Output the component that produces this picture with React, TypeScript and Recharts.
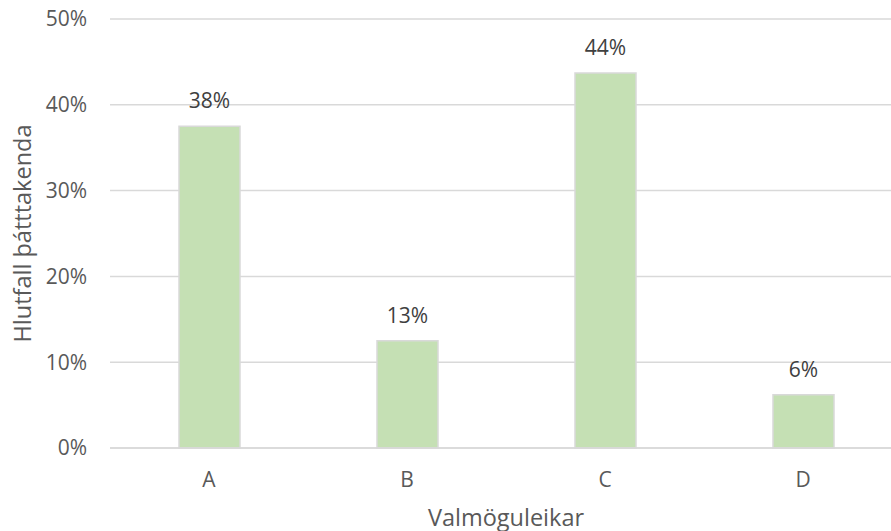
import React from 'react';
import { BarChart, Bar, XAxis, YAxis, CartesianGrid, LabelList } from 'recharts';

const categories = ['A', 'B', 'C', 'D'];
const shares = [37.5, 12.5, 43.7, 6.2];
const yTicks = [0, 10, 20, 30, 40, 50];

const data = categories.map((c, i) => ({ name: c, value: shares[i] }));

const FONT = '"Open Sans", sans-serif';

const YTitle = (props: any) => {
  const vb = props.viewBox || {};
  const x = vb.x + 31;
  const y = vb.y + vb.height / 2;
  return (
    <text
      x={x}
      y={y}
      transform={`rotate(-90, ${x}, ${y})`}
      textAnchor="middle"
      fill="#595959"
      fontSize={23.5}
      fontFamily={FONT}
    >
      Hlutfall þátttakenda
    </text>
  );
};

export default function App() {
  return (
    <div style={{ position: 'absolute', left: 0, top: 0 }}>
      <BarChart
        width={902}
        height={531}
        data={data}
        margin={{ top: 19, right: 0, left: 0, bottom: 0 }}
      >
        <CartesianGrid vertical={false} stroke="#d9d9d9" strokeWidth={1.5} />
        <XAxis
          dataKey="name"
          height={83}
          tickLine={false}
          tickSize={0}
          tickMargin={24}
          axisLine={{ stroke: '#d9d9d9', strokeWidth: 1.5 }}
          tick={{ fill: '#595959', fontSize: 21, fontFamily: FONT }}
          label={{
            value: 'Valmöguleikar',
            position: 'insideBottom',
            offset: 5.5,
            fill: '#595959',
            fontSize: 23.5,
            fontFamily: FONT,
          }}
        />
        <YAxis
          width={110}
          domain={[0, 50]}
          ticks={yTicks}
          tickFormatter={(v: number) => `${v}%`}
          axisLine={false}
          tickLine={false}
          tickSize={0}
          tickMargin={23}
          tick={{ fill: '#595959', fontSize: 21, fontFamily: FONT }}
          label={<YTitle />}
        />
        <Bar
          dataKey="value"
          fill="#c5e0b4"
          stroke="#d9d9d9"
          strokeWidth={1.5}
          barSize={61}
          isAnimationActive={false}
        >
          <LabelList
            dataKey="value"
            position="top"
            offset={18}
            formatter={(v: any) => `${Math.round(Number(v))}%`}
            fill="#404040"
            fontSize={21}
            fontFamily={FONT}
          />
        </Bar>
      </BarChart>
    </div>
  );
}
